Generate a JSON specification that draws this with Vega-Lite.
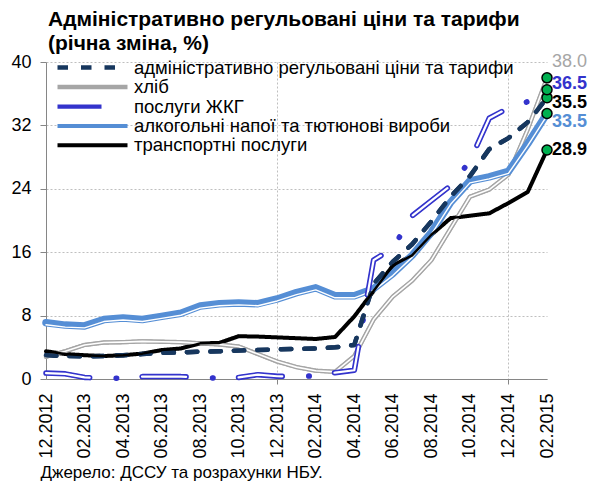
{
"$schema":"https://vega.github.io/schema/vega-lite/v6.json",
"width":501,"height":317,
"autosize":{"type":"none"},
"padding":{"left":46,"top":62,"right":46,"bottom":103},
"background":"white",
"config":{"font":"Liberation Sans","view":{"stroke":null}},
"title":{"text":["Адміністративно регульовані ціни та тарифи","(річна зміна, %)"],"anchor":"start","frame":"group","fontSize":21,"fontWeight":"bold","color":"#000","offset":-1,"lineHeight":24,"dx":2},
"datasets":{"d":[
{"month":"12.2012","series":"адміністративно регульовані ціни та тарифи","value":3.0},
{"month":"01.2013","series":"адміністративно регульовані ціни та тарифи","value":2.9},
{"month":"02.2013","series":"адміністративно регульовані ціни та тарифи","value":2.85},
{"month":"03.2013","series":"адміністративно регульовані ціни та тарифи","value":2.9},
{"month":"04.2013","series":"адміністративно регульовані ціни та тарифи","value":3.0},
{"month":"05.2013","series":"адміністративно регульовані ціни та тарифи","value":3.15},
{"month":"06.2013","series":"адміністративно регульовані ціни та тарифи","value":3.3},
{"month":"07.2013","series":"адміністративно регульовані ціни та тарифи","value":3.35},
{"month":"08.2013","series":"адміністративно регульовані ціни та тарифи","value":3.45},
{"month":"09.2013","series":"адміністративно регульовані ціни та тарифи","value":3.5},
{"month":"10.2013","series":"адміністративно регульовані ціни та тарифи","value":3.6},
{"month":"11.2013","series":"адміністративно регульовані ціни та тарифи","value":3.65},
{"month":"12.2013","series":"адміністративно регульовані ціни та тарифи","value":3.75},
{"month":"01.2014","series":"адміністративно регульовані ціни та тарифи","value":3.8},
{"month":"02.2014","series":"адміністративно регульовані ціни та тарифи","value":3.85},
{"month":"03.2014","series":"адміністративно регульовані ціни та тарифи","value":4.0},
{"month":"04.2014","series":"адміністративно регульовані ціни та тарифи","value":4.3},
{"month":"05.2014","series":"адміністративно регульовані ціни та тарифи","value":12.0},
{"month":"06.2014","series":"адміністративно регульовані ціни та тарифи","value":14.8},
{"month":"07.2014","series":"адміністративно регульовані ціни та тарифи","value":17.0},
{"month":"08.2014","series":"адміністративно регульовані ціни та тарифи","value":19.9},
{"month":"09.2014","series":"адміністративно регульовані ціни та тарифи","value":23.0},
{"month":"10.2014","series":"адміністративно регульовані ціни та тарифи","value":25.6},
{"month":"11.2014","series":"адміністративно регульовані ціни та тарифи","value":29.0},
{"month":"12.2014","series":"адміністративно регульовані ціни та тарифи","value":30.4},
{"month":"01.2015","series":"адміністративно регульовані ціни та тарифи","value":32.4},
{"month":"02.2015","series":"адміністративно регульовані ціни та тарифи","value":35.5},
{"month":"12.2012","series":"хліб","value":2.8},
{"month":"01.2013","series":"хліб","value":3.5},
{"month":"02.2013","series":"хліб","value":4.3},
{"month":"03.2013","series":"хліб","value":4.6},
{"month":"04.2013","series":"хліб","value":4.65},
{"month":"05.2013","series":"хліб","value":4.75},
{"month":"06.2013","series":"хліб","value":4.7},
{"month":"07.2013","series":"хліб","value":4.65},
{"month":"08.2013","series":"хліб","value":4.5},
{"month":"09.2013","series":"хліб","value":4.35},
{"month":"10.2013","series":"хліб","value":4.1},
{"month":"11.2013","series":"хліб","value":3.15},
{"month":"12.2013","series":"хліб","value":2.2},
{"month":"01.2014","series":"хліб","value":1.5},
{"month":"02.2014","series":"хліб","value":1.05},
{"month":"03.2014","series":"хліб","value":0.9},
{"month":"04.2014","series":"хліб","value":2.9},
{"month":"05.2014","series":"хліб","value":7.5},
{"month":"06.2014","series":"хліб","value":10.4},
{"month":"07.2014","series":"хліб","value":12.4},
{"month":"08.2014","series":"хліб","value":15.0},
{"month":"09.2014","series":"хліб","value":19.0},
{"month":"10.2014","series":"хліб","value":23.0},
{"month":"11.2014","series":"хліб","value":23.9},
{"month":"12.2014","series":"хліб","value":25.8},
{"month":"01.2015","series":"хліб","value":31.5},
{"month":"02.2015","series":"хліб","value":38.0},
{"month":"12.2012","series":"послуги ЖКГ","value":0.75},
{"month":"01.2013","series":"послуги ЖКГ","value":0.65},
{"month":"02.2013","series":"послуги ЖКГ","value":0.2},
{"month":"03.2013","series":"послуги ЖКГ","value":0.1},
{"month":"04.2013","series":"послуги ЖКГ","value":0.1},
{"month":"05.2013","series":"послуги ЖКГ","value":0.3},
{"month":"06.2013","series":"послуги ЖКГ","value":0.3},
{"month":"07.2013","series":"послуги ЖКГ","value":0.3},
{"month":"08.2013","series":"послуги ЖКГ","value":0.2},
{"month":"09.2013","series":"послуги ЖКГ","value":0.1},
{"month":"10.2013","series":"послуги ЖКГ","value":0.2},
{"month":"11.2013","series":"послуги ЖКГ","value":0.55},
{"month":"12.2013","series":"послуги ЖКГ","value":0.35},
{"month":"01.2014","series":"послуги ЖКГ","value":0.3},
{"month":"02.2014","series":"послуги ЖКГ","value":0.4},
{"month":"03.2014","series":"послуги ЖКГ","value":0.8},
{"month":"04.2014","series":"послуги ЖКГ","value":1.1},
{"month":"05.2014","series":"послуги ЖКГ","value":15.0},
{"month":"06.2014","series":"послуги ЖКГ","value":16.5},
{"month":"07.2014","series":"послуги ЖКГ","value":20.6},
{"month":"08.2014","series":"послуги ЖКГ","value":22.5},
{"month":"09.2014","series":"послуги ЖКГ","value":24.4},
{"month":"10.2014","series":"послуги ЖКГ","value":27.5},
{"month":"11.2014","series":"послуги ЖКГ","value":32.9},
{"month":"12.2014","series":"послуги ЖКГ","value":34.2},
{"month":"01.2015","series":"послуги ЖКГ","value":35.0},
{"month":"02.2015","series":"послуги ЖКГ","value":36.5},
{"month":"12.2012","series":"алкогольні напої та тютюнові вироби","value":7.1},
{"month":"01.2013","series":"алкогольні напої та тютюнові вироби","value":6.8},
{"month":"02.2013","series":"алкогольні напої та тютюнові вироби","value":6.7},
{"month":"03.2013","series":"алкогольні напої та тютюнові вироби","value":7.5},
{"month":"04.2013","series":"алкогольні напої та тютюнові вироби","value":7.7},
{"month":"05.2013","series":"алкогольні напої та тютюнові вироби","value":7.5},
{"month":"06.2013","series":"алкогольні напої та тютюнові вироби","value":7.9},
{"month":"07.2013","series":"алкогольні напої та тютюнові вироби","value":8.3},
{"month":"08.2013","series":"алкогольні напої та тютюнові вироби","value":9.2},
{"month":"09.2013","series":"алкогольні напої та тютюнові вироби","value":9.5},
{"month":"10.2013","series":"алкогольні напої та тютюнові вироби","value":9.6},
{"month":"11.2013","series":"алкогольні напої та тютюнові вироби","value":9.5},
{"month":"12.2013","series":"алкогольні напої та тютюнові вироби","value":10.1},
{"month":"01.2014","series":"алкогольні напої та тютюнові вироби","value":10.9},
{"month":"02.2014","series":"алкогольні напої та тютюнові вироби","value":11.5},
{"month":"03.2014","series":"алкогольні напої та тютюнові вироби","value":10.5},
{"month":"04.2014","series":"алкогольні напої та тютюнові вироби","value":10.5},
{"month":"05.2014","series":"алкогольні напої та тютюнові вироби","value":11.4},
{"month":"06.2014","series":"алкогольні напої та тютюнові вироби","value":13.3},
{"month":"07.2014","series":"алкогольні напої та тютюнові вироби","value":15.6},
{"month":"08.2014","series":"алкогольні напої та тютюнові вироби","value":18.5},
{"month":"09.2014","series":"алкогольні напої та тютюнові вироби","value":22.3},
{"month":"10.2014","series":"алкогольні напої та тютюнові вироби","value":25.0},
{"month":"11.2014","series":"алкогольні напої та тютюнові вироби","value":25.5},
{"month":"12.2014","series":"алкогольні напої та тютюнові вироби","value":26.2},
{"month":"01.2015","series":"алкогольні напої та тютюнові вироби","value":29.7},
{"month":"02.2015","series":"алкогольні напої та тютюнові вироби","value":33.5},
{"month":"12.2012","series":"транспортні послуги","value":3.5},
{"month":"01.2013","series":"транспортні послуги","value":3.15},
{"month":"02.2013","series":"транспортні послуги","value":3.0},
{"month":"03.2013","series":"транспортні послуги","value":2.9},
{"month":"04.2013","series":"транспортні послуги","value":3.0},
{"month":"05.2013","series":"транспортні послуги","value":3.2},
{"month":"06.2013","series":"транспортні послуги","value":3.65},
{"month":"07.2013","series":"транспортні послуги","value":3.85},
{"month":"08.2013","series":"транспортні послуги","value":4.5},
{"month":"09.2013","series":"транспортні послуги","value":4.55},
{"month":"10.2013","series":"транспортні послуги","value":5.4},
{"month":"11.2013","series":"транспортні послуги","value":5.35},
{"month":"12.2013","series":"транспортні послуги","value":5.25},
{"month":"01.2014","series":"транспортні послуги","value":5.15},
{"month":"02.2014","series":"транспортні послуги","value":5.05},
{"month":"03.2014","series":"транспортні послуги","value":5.3},
{"month":"04.2014","series":"транспортні послуги","value":7.9},
{"month":"05.2014","series":"транспортні послуги","value":11.1},
{"month":"06.2014","series":"транспортні послуги","value":14.3},
{"month":"07.2014","series":"транспортні послуги","value":15.6},
{"month":"08.2014","series":"транспортні послуги","value":18.2},
{"month":"09.2014","series":"транспортні послуги","value":20.3},
{"month":"10.2014","series":"транспортні послуги","value":20.6},
{"month":"11.2014","series":"транспортні послуги","value":20.9},
{"month":"12.2014","series":"транспортні послуги","value":22.2},
{"month":"01.2015","series":"транспортні послуги","value":23.6},
{"month":"02.2015","series":"транспортні послуги","value":28.9}
]},
"data":{"name":"d"},
"encoding":{
 "x":{"field":"month","type":"ordinal",
  "scale":{"type":"point","padding":0,"domain":["12.2012","01.2013","02.2013","03.2013","04.2013","05.2013","06.2013","07.2013","08.2013","09.2013","10.2013","11.2013","12.2013","01.2014","02.2014","03.2014","04.2014","05.2014","06.2014","07.2014","08.2014","09.2014","10.2014","11.2014","12.2014","01.2015","02.2015"]},
  "axis":{"values":["12.2012","02.2013","04.2013","06.2013","08.2013","10.2013","12.2013","02.2014","04.2014","06.2014","08.2014","10.2014","12.2014","02.2015"],
   "labelAngle":-90,"labelAlign":"right","labelBaseline":"middle","labelFontSize":18,"labelPadding":9,"labelColor":"#000",
   "grid":true,"gridColor":"#BFBFBF","gridDash":[2,2],
   "gridOpacity":{"condition":{"test":"datum.value==='12.2013'||datum.value==='12.2014'","value":1},"value":0},
   "ticks":true,"tickSize":5,"tickColor":"#868686",
   "tickOpacity":{"condition":{"test":"datum.value==='12.2013'||datum.value==='12.2014'","value":1},"value":0},
   "domainColor":"#868686",
   "title":"Джерело: ДССУ та розрахунки НБУ.","titleFontSize":17,"titleFontWeight":"normal","titleColor":"#000","titleAnchor":"start","titleAlign":"left","titleBaseline":"alphabetic","titleX":-6,"titleY":98}},
 "y":{"field":"value","type":"quantitative","scale":{"domain":[0,40],"nice":false},
  "axis":{"values":[0,8,16,24,32,40],"labelFontSize":18,"labelPadding":9,"labelColor":"#000","tickSize":6,"tickColor":"#868686","domainColor":"#868686","grid":true,"gridColor":"#BFBFBF","gridDash":[2,2],"title":null}}
},
"layer":[
 {"mark":{"type":"line","strokeCap":"round","strokeJoin":"round"},
  "encoding":{
   "color":{"field":"series","type":"nominal",
    "scale":{"domain":["адміністративно регульовані ціни та тарифи","хліб","послуги ЖКГ","алкогольні напої та тютюнові вироби","транспортні послуги"],"range":["#17375E","#A6A6A6","#3333CC","#558ED5","#000000"]},
    "legend":{"title":null,"orient":"none","legendX":37,"legendY":-4,"symbolType":"M-5,0H5","symbolSize":196,"symbolFillColor":"transparent","labelFontSize":18.5,"labelColor":"#000","labelOffset":32,"rowPadding":0.5,"padding":0,"labelLimit":0}},
   "strokeDash":{"field":"series","type":"nominal",
    "scale":{"domain":["адміністративно регульовані ціни та тарифи","хліб","послуги ЖКГ","алкогольні напої та тютюнові вироби","транспортні послуги"],"range":[[10.5,13],[1,0],[44,26.5,0.5,25.5],[1,0],[1,0]]}},
   "strokeWidth":{"field":"series","type":"nominal",
    "scale":{"domain":["адміністративно регульовані ціни та тарифи","хліб","послуги ЖКГ","алкогольні напої та тютюнові вироби","транспортні послуги"],"range":[4.5,4,5.5,7.5,2.5]}}
  }},
 {"transform":[{"filter":"datum.series==='хліб'"}],"mark":{"type":"line","stroke":"#A6A6A6","strokeWidth":4,"strokeCap":"round","strokeJoin":"round"},"encoding":{}},
 {"transform":[{"filter":"datum.series==='хліб'"}],"mark":{"type":"line","stroke":"#FFFFFF","strokeWidth":1.6,"strokeCap":"round","strokeJoin":"round"},"encoding":{}},
 {"transform":[{"filter":"datum.series==='алкогольні напої та тютюнові вироби'"}],"mark":{"type":"line","stroke":"#558ED5","strokeWidth":7.5,"strokeCap":"round","strokeJoin":"round"},"encoding":{}},
 {"transform":[{"filter":"datum.series==='алкогольні напої та тютюнові вироби'"}],"mark":{"type":"line","stroke":"#FFFFFF","strokeWidth":1.4,"yOffset":2,"strokeCap":"round","strokeJoin":"round"},"encoding":{}},
 {"transform":[{"filter":"datum.series==='послуги ЖКГ'"}],"mark":{"type":"line","stroke":"#3333CC","strokeWidth":5.5,"strokeDash":[44,26.5,0.5,25.5],"strokeCap":"round","strokeJoin":"round"},"encoding":{}},
 {"transform":[{"filter":"datum.series==='послуги ЖКГ'"}],"mark":{"type":"line","stroke":"#FFFFFF","strokeWidth":2.2,"strokeDash":[44,52.5],"strokeCap":"round","strokeJoin":"round"},"encoding":{}},
 {"transform":[{"filter":"datum.series==='адміністративно регульовані ціни та тарифи'"}],"mark":{"type":"line","stroke":"#17375E","strokeWidth":4.5,"strokeDash":[10.5,13],"strokeCap":"round","strokeJoin":"round"},"encoding":{}},
 {"transform":[{"filter":"datum.series==='транспортні послуги'"}],"mark":{"type":"line","stroke":"#000000","strokeWidth":2.5,"strokeCap":"round","strokeJoin":"round"},"encoding":{}},
 {"transform":[{"filter":"datum.month==='02.2015'"}],"mark":{"type":"point","filled":true,"fill":"#00B050","stroke":"#000000","strokeWidth":1.5,"size":100,"opacity":1},"encoding":{}},
 {"transform":[{"filter":"datum.month==='02.2015' && datum.series==='хліб'"}],"mark":{"type":"text","align":"left","baseline":"middle","dx":5,"dy":-16,"fontSize":18,"color":"#A6A6A6"},"encoding":{"text":{"field":"value","type":"quantitative","format":".1f"}}},
 {"transform":[{"filter":"datum.month==='02.2015' && datum.series==='послуги ЖКГ'"}],"mark":{"type":"text","align":"left","baseline":"middle","dx":5,"dy":-5.5,"fontSize":18,"fontWeight":"bold","color":"#3333CC"},"encoding":{"text":{"field":"value","type":"quantitative","format":".1f"}}},
 {"transform":[{"filter":"datum.month==='02.2015' && datum.series==='адміністративно регульовані ціни та тарифи'"}],"mark":{"type":"text","align":"left","baseline":"middle","dx":5,"dy":5.5,"fontSize":18,"fontWeight":"bold","color":"#000000"},"encoding":{"text":{"field":"value","type":"quantitative","format":".1f"}}},
 {"transform":[{"filter":"datum.month==='02.2015' && datum.series==='алкогольні напої та тютюнові вироби'"}],"mark":{"type":"text","align":"left","baseline":"middle","dx":5,"dy":8.5,"fontSize":18,"fontWeight":"bold","color":"#558ED5"},"encoding":{"text":{"field":"value","type":"quantitative","format":".1f"}}},
 {"transform":[{"filter":"datum.month==='02.2015' && datum.series==='транспортні послуги'"}],"mark":{"type":"text","align":"left","baseline":"middle","dx":5,"dy":0,"fontSize":18,"fontWeight":"bold","color":"#000000"},"encoding":{"text":{"field":"value","type":"quantitative","format":".1f"}}}
]
}
